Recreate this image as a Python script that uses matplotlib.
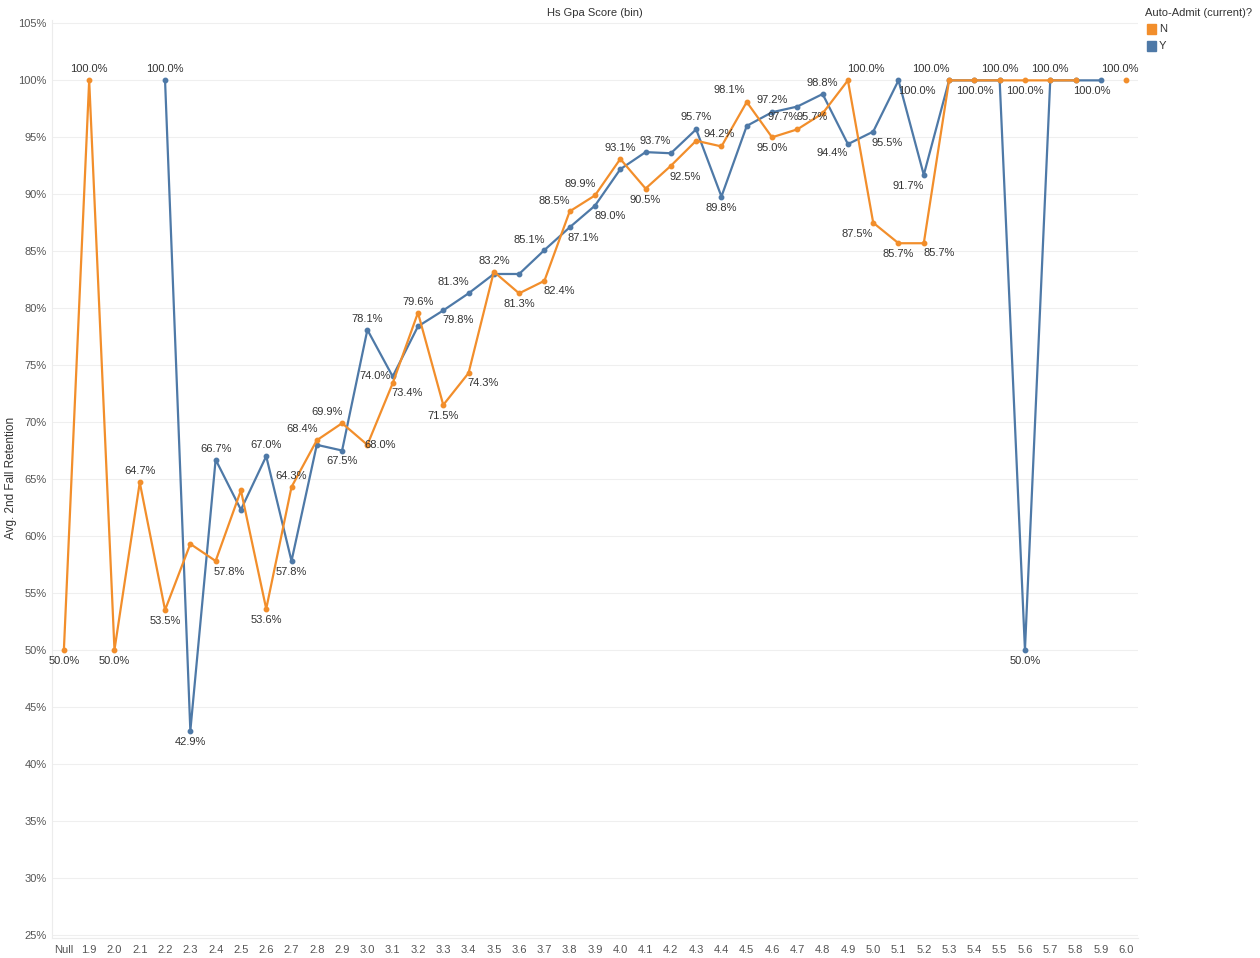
import numpy as np
import matplotlib
matplotlib.use("Agg")
import matplotlib.pyplot as plt
from matplotlib.patches import Rectangle

plt.rcParams['font.family'] = ['Liberation Sans Narrow', 'Liberation Sans', 'DejaVu Sans']

nan = np.nan
categories = ["Null", "1.9", "2.0", "2.1", "2.2", "2.3", "2.4", "2.5", "2.6", "2.7", "2.8", "2.9",
              "3.0", "3.1", "3.2", "3.3", "3.4", "3.5", "3.6", "3.7", "3.8", "3.9", "4.0", "4.1",
              "4.2", "4.3", "4.4", "4.5", "4.6", "4.7", "4.8", "4.9", "5.0", "5.1", "5.2", "5.3",
              "5.4", "5.5", "5.6", "5.7", "5.8", "5.9", "6.0"]

retention_n = [50.0, 100.0, 50.0, 64.7, 53.5, 59.3, 57.8, 64.0, 53.6, 64.3, 68.4, 69.9,
               68.0, 73.4, 79.6, 71.5, 74.3, 83.2, 81.3, 82.4, 88.5, 89.9, 93.1, 90.5,
               92.5, 94.7, 94.2, 98.1, 95.0, 95.7, 97.1, 100.0, 87.5, 85.7, 85.7, 100.0,
               100.0, 100.0, 100.0, 100.0, 100.0, nan, 100.0]

retention_y = [nan, nan, nan, nan, 100.0, 42.9, 66.7, 62.3, 67.0, 57.8, 68.0, 67.5,
               78.1, 74.0, 78.4, 79.8, 81.3, 83.0, 83.0, 85.1, 87.1, 89.0, 92.2, 93.7,
               93.6, 95.7, 89.8, 96.0, 97.2, 97.7, 98.8, 94.4, 95.5, 100.0, 91.7, 100.0,
               100.0, 100.0, 50.0, 100.0, 100.0, 100.0, nan]

y_ticks = [25, 30, 35, 40, 45, 50, 55, 60, 65, 70, 75, 80, 85, 90, 95, 100, 105]

# label placement: (category, dx px, dy px)  dy>0 -> above
labels_n = [("Null", 0, -11), ("1.9", 0, 11), ("2.0", 0, -11), ("2.1", 0, 11), ("2.2", 0, -11),
            ("2.4", 14, -11), ("2.6", 0, -11), ("2.7", 0, 11), ("2.8", -15, 11), ("2.9", -15, 11),
            ("3.0", 13, 0), ("3.1", 14, -10), ("3.2", 0, 11), ("3.3", 0, -11), ("3.4", 15, -10),
            ("3.5", 0, 11), ("3.6", 0, -11), ("3.7", 15, -10), ("3.8", -15, 10), ("3.9", -15, 11),
            ("4.0", 0, 11), ("4.1", 0, -11), ("4.2", 14, -11), ("4.4", -2, 12), ("4.5", -17, 12),
            ("4.6", 0, -11), ("4.7", 15, 12), ("4.9", 18, 11), ("5.0", -16, -11), ("5.1", 0, -11),
            ("5.2", 15, -10), ("5.3", -18, 11), ("5.4", 0, -11), ("5.5", 0, 11), ("5.6", 0, -11),
            ("5.7", 0, 11), ("6.0", -6, 11)]
labels_y = [("2.2", 0, 11), ("2.3", 0, -11), ("2.4", 0, 11), ("2.6", 0, 11), ("2.7", 0, -11),
            ("2.9", 0, -10), ("3.0", 0, 11), ("3.1", -18, 0), ("3.3", 15, -10), ("3.4", -15, 11),
            ("3.7", -15, 10), ("3.8", 14, -11), ("3.9", 15, -10), ("4.1", 10, 11), ("4.3", 0, 12),
            ("4.4", 0, -11), ("4.6", 0, 12), ("4.7", -14, -10), ("4.8", 0, 11), ("4.9", -16, -9),
            ("5.0", 14, -11), ("5.1", 18, -11), ("5.2", -16, -11), ("5.6", 0, -11), ("5.9", -9, -11)]

ORANGE = "#F28E2B"
BLUE = "#4E79A7"

W, H = 1260, 958
fig = plt.figure(figsize=(W / 100, H / 100), dpi=100)
ax = fig.add_axes([52 / W, (H - 938) / H, (1138 - 52) / W, (938 - 20) / H])

x = np.arange(len(categories))
ax.plot(x, retention_y, color=BLUE, lw=1.6, marker='o', ms=3.2, zorder=3)
ax.plot(x, retention_n, color=ORANGE, lw=1.6, marker='o', ms=3.2, zorder=4)

px2pt = 72 / 100
for series, specs in ((retention_n, labels_n), (retention_y, labels_y)):
    for cat, dx, dy in specs:
        i = categories.index(cat)
        v = series[i]
        ax.annotate(f"{v:.1f}%", (x[i], v), xytext=(dx * px2pt, dy * px2pt),
                    textcoords='offset points', ha='center', va='center',
                    fontsize=8, color='#333333', zorder=5)

ax.set_xlim(-0.47, len(categories) - 1 + 0.47)
ax.set_ylim(24.7, 105.3)
ax.set_xticks(x)
ax.set_xticklabels(categories, fontsize=8, color='#555555')
ax.set_yticks(y_ticks)
ax.set_yticklabels([f"{t}%" for t in y_ticks], fontsize=8, color='#555555')
ax.tick_params(axis='both', length=0, pad=4)
ax.tick_params(axis='x', pad=5)
ax.grid(axis='y', color='#efefef', lw=0.8)
ax.set_axisbelow(True)
for s in ('top', 'right'):
    ax.spines[s].set_visible(False)
for s in ('left', 'bottom'):
    ax.spines[s].set_color('#ececec')
    ax.spines[s].set_linewidth(0.8)

fig.text(595 / W, 1 - 13 / H, "Hs Gpa Score (bin)", ha='center', va='center',
         fontsize=8, color='#333333')
fig.text(11 / W, 1 - 478 / H, "Avg. 2nd Fall Retention", ha='center', va='center',
         rotation=90, fontsize=8.5, color='#333333')

# legend
fig.text(1145 / W, 1 - 13 / H, "Auto-Admit (current)?", ha='left', va='center',
         fontsize=8, color='#333333')
for k, (lab, col) in enumerate((("N", ORANGE), ("Y", BLUE))):
    yc = 29 + 17 * k
    fig.patches.append(Rectangle((1147 / W, 1 - (yc + 5) / H), 9 / W, 10 / H,
                                 transform=fig.transFigure, color=col))
    fig.text(1159 / W, 1 - yc / H, lab, ha='left', va='center', fontsize=8, color='#333333')

fig.savefig("out.png", dpi=100)
